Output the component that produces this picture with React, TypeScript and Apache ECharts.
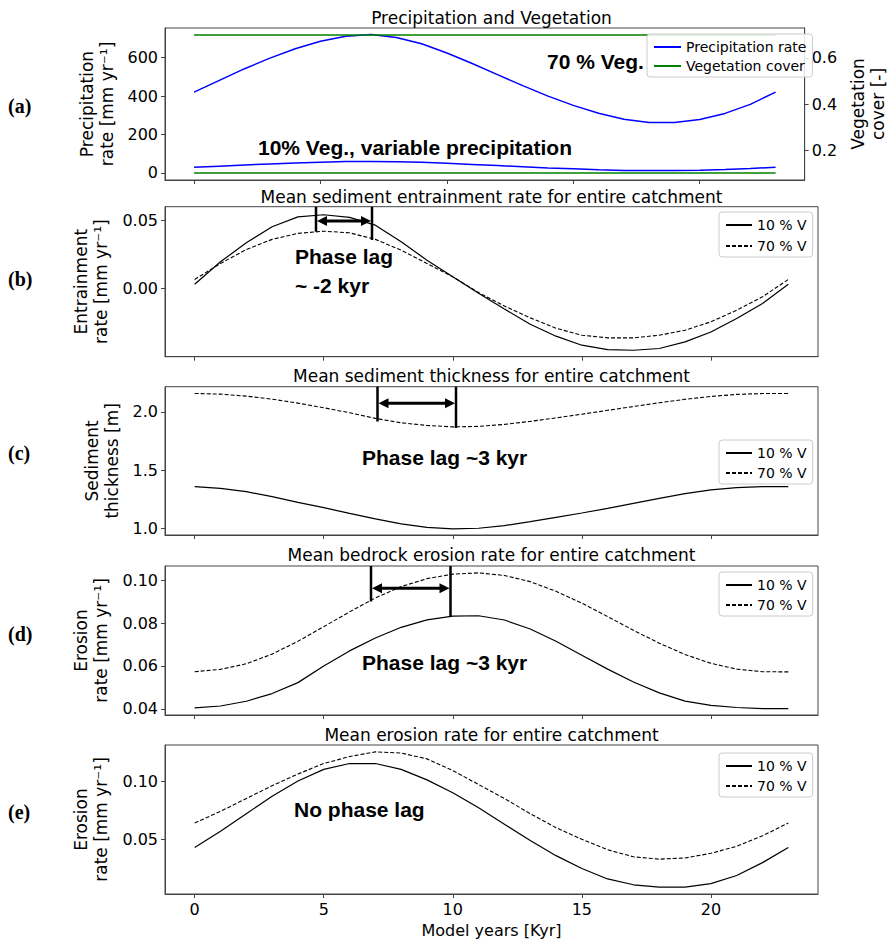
import React, { useEffect, useRef } from "react";
import * as echarts from "echarts";

// ---------- data ----------
const years = [0, 1, 2, 3, 4, 5, 6, 7, 8, 9, 10, 11, 12, 13, 14, 15, 16, 17, 18, 19, 20, 21, 22, 23];

const precipHigh = [421, 482, 543, 598, 647, 686, 712, 721, 706, 673, 625, 570, 512, 455, 400, 352, 311, 280, 263, 262, 278, 310, 357, 421];
const precipLow = [29, 35, 41, 47, 52, 56, 59, 60, 58, 55, 50, 44, 38, 32, 26, 21, 16, 13, 12, 12, 14, 18, 23, 29];
const vegYears = [0, 23];
const vegHigh = [0.7, 0.7];
const vegLow = [0.1, 0.1];

const entrain10 = [0.0031, 0.0195, 0.0334, 0.0451, 0.0524, 0.0539, 0.052, 0.0463, 0.0341, 0.0207, 0.0085, -0.0035, -0.015, -0.0262, -0.0349, -0.0415, -0.0447, -0.0452, -0.0439, -0.0391, -0.0318, -0.022, -0.011, 0.0031];
const entrain70 = [0.0066, 0.0183, 0.0285, 0.0359, 0.0403, 0.0419, 0.0407, 0.0359, 0.028, 0.0183, 0.0085, -0.003, -0.0128, -0.0215, -0.0291, -0.0342, -0.0361, -0.0361, -0.0342, -0.0305, -0.0244, -0.0159, -0.0061, 0.0066];

const thick10 = [1.357, 1.343, 1.314, 1.271, 1.222, 1.177, 1.128, 1.08, 1.037, 1.008, 0.994, 1.0, 1.023, 1.057, 1.094, 1.131, 1.171, 1.214, 1.257, 1.297, 1.329, 1.349, 1.357, 1.357];
const thick70 = [2.158, 2.152, 2.135, 2.109, 2.075, 2.035, 1.992, 1.944, 1.906, 1.883, 1.871, 1.875, 1.892, 1.918, 1.948, 1.98, 2.013, 2.046, 2.078, 2.108, 2.132, 2.15, 2.157, 2.158];

const bedrock10 = [0.0404, 0.0413, 0.0435, 0.0471, 0.0522, 0.06, 0.067, 0.073, 0.078, 0.0815, 0.0832, 0.0834, 0.0814, 0.0772, 0.0715, 0.065, 0.0585, 0.0525, 0.0474, 0.0436, 0.0416, 0.0406, 0.0401, 0.0401];
const bedrock70 = [0.0573, 0.0584, 0.061, 0.0655, 0.0715, 0.0783, 0.0852, 0.0917, 0.097, 0.1007, 0.1028, 0.1034, 0.1022, 0.0993, 0.0948, 0.0893, 0.083, 0.0766, 0.0706, 0.0653, 0.0612, 0.0585, 0.0573, 0.0572];

const erosion10 = [0.043, 0.057, 0.072, 0.087, 0.1, 0.11, 0.115, 0.115, 0.11, 0.101, 0.09, 0.077, 0.063, 0.049, 0.036, 0.025, 0.016, 0.011, 0.009, 0.009, 0.012, 0.019, 0.03, 0.043];
const erosion70 = [0.064, 0.074, 0.085, 0.096, 0.106, 0.115, 0.121, 0.125, 0.124, 0.119, 0.109, 0.097, 0.085, 0.072, 0.06, 0.05, 0.041, 0.035, 0.033, 0.034, 0.038, 0.044, 0.053, 0.064];

const xTicks = [0, 5, 10, 15, 20];
const precipTicks = [0, 200, 400, 600];
const vegTicks = [0.2, 0.4, 0.6];
const entrainTicks = [0, 0.05];
const thickTicks = [1.0, 1.5, 2.0];
const bedrockTicks = [0.04, 0.06, 0.08, 0.1];
const erosionTicks = [0.05, 0.1];

const panelTitles = [
  "Precipitation and Vegetation",
  "Mean sediment entrainment rate for entire catchment",
  "Mean sediment thickness for entire catchment",
  "Mean bedrock erosion rate for entire catchment",
  "Mean erosion rate for entire catchment",
];
const panelLetters = ["(a)", "(b)", "(c)", "(d)", "(e)"];
const legendPrecip = ["Precipitation rate", "Vegetation cover"];
const legendVeg = ["10 % V", "70 % V"];

// ---------- layout ----------
const FONT = "'DejaVu Sans', sans-serif";
const BOLD = "bold 21px 'Liberation Sans', Arial, sans-serif";
const GL = 165;
const GW = 653;
const grids = [
  { top: 28, height: 152 },
  { top: 206.7, height: 150 },
  { top: 386.7, height: 148.3 },
  { top: 566, height: 149 },
  { top: 745, height: 149 },
];
const titleY = [18, 197, 376, 555, 735];
const letterY = [106, 279, 453, 634, 812];
const AXIS_COLOR = "#444";

function xAxis(gridIndex: number, showLabels: boolean) {
  return {
    type: "value",
    gridIndex,
    min: -1.15,
    max: 24.15,
    axisLine: { show: true, onZero: false, lineStyle: { color: AXIS_COLOR, width: 1 } },
    axisTick: { show: true, length: 4, customValues: xTicks, lineStyle: { color: AXIS_COLOR } },
    axisLabel: {
      show: showLabels,
      customValues: xTicks,
      margin: 7,
      fontSize: 16,
      color: "#000",
      fontFamily: FONT,
    },
    splitLine: { show: false },
    name: showLabels ? "Model years [Kyr]" : "",
    nameLocation: "middle",
    nameGap: 28,
    nameTextStyle: { fontSize: 16, color: "#000", fontFamily: FONT },
  };
}

function yAxis(
  gridIndex: number,
  min: number,
  max: number,
  ticks: number[],
  decimals: number,
  name: string,
  nameGap: number,
  position: "left" | "right" = "left"
) {
  return {
    type: "value",
    gridIndex,
    position,
    min,
    max,
    axisLine: { show: true, onZero: false, lineStyle: { color: AXIS_COLOR, width: 1 } },
    axisTick: { show: true, length: 4, customValues: ticks, lineStyle: { color: AXIS_COLOR } },
    axisLabel: {
      customValues: ticks,
      margin: 7,
      fontSize: 16,
      color: "#000",
      fontFamily: FONT,
      formatter: (v: number) => v.toFixed(decimals),
    },
    splitLine: { show: false },
    name,
    nameLocation: "middle",
    nameRotate: 90,
    nameGap,
    nameTextStyle: { fontSize: 17, lineHeight: 20, color: "#000", fontFamily: FONT },
  };
}

function line(
  name: string,
  xi: number,
  yi: number,
  xs: number[],
  ys: number[],
  color: string,
  width: number,
  dashed: boolean
) {
  return {
    type: "line",
    name,
    xAxisIndex: xi,
    yAxisIndex: yi,
    data: xs.map((x, i) => [x, ys[i]]),
    symbol: "none",
    showSymbol: false,
    lineStyle: { color, width, type: dashed ? [4, 2] : "solid" },
    itemStyle: { color },
    emphasis: { disabled: true },
  };
}

function legend(left: number, top: number, data: string[], itemWidth: number, itemGap: number) {
  return {
    orient: "vertical",
    left,
    top,
    data,
    itemWidth,
    itemHeight: 14,
    itemGap,
    padding: [6, 6, 4, 6],
    backgroundColor: "rgba(255,255,255,0.85)",
    borderColor: "#ccc",
    borderWidth: 1,
    borderRadius: 3,
    selectedMode: false,
    itemStyle: {
      color: "rgba(0,0,0,0)",
      borderColor: "rgba(0,0,0,0)",
      borderWidth: 0,
      opacity: 0,
    },
    textStyle: { fontSize: 14, color: "#000", fontFamily: FONT },
  };
}

function text(x: number, y: number, s: string, font: string, align = "left") {
  return {
    type: "text",
    x,
    y,
    z: 100,
    style: {
      text: s,
      font,
      fill: "#000",
      align,
      verticalAlign: "middle",
      textAlign: align,
      textVerticalAlign: "middle",
    },
  };
}

function vline(x: number, y1: number, y2: number) {
  return {
    type: "line",
    z: 100,
    shape: { x1: x, y1, x2: x, y2 },
    style: { stroke: "#000", lineWidth: 2.5 },
  };
}

function dArrow(x1: number, x2: number, y: number) {
  const hl = 10;
  const hw = 5;
  return [
    {
      type: "line",
      z: 100,
      shape: { x1: x1 + hl - 1, y1: y, x2: x2 - hl + 1, y2: y },
      style: { stroke: "#000", lineWidth: 3 },
    },
    {
      type: "polygon",
      z: 100,
      shape: { points: [[x1, y], [x1 + hl, y - hw], [x1 + hl, y + hw]] },
      style: { fill: "#000" },
    },
    {
      type: "polygon",
      z: 100,
      shape: { points: [[x2, y], [x2 - hl, y - hw], [x2 - hl, y + hw]] },
      style: { fill: "#000" },
    },
  ];
}

export default function App() {
  const ref = useRef<HTMLDivElement>(null);

  useEffect(() => {
    document.body.style.margin = "0";
    if (!ref.current) return;
    const chart = echarts.init(ref.current, undefined, { renderer: "svg" });

    const graphic: any[] = [];
    panelTitles.forEach((t, i) =>
      graphic.push(text(GL + GW / 2, titleY[i], t, `17px ${FONT}`, "center"))
    );
    panelLetters.forEach((t, i) =>
      graphic.push(text(8, letterY[i], t, "bold 20px 'Liberation Serif', 'Times New Roman', serif"))
    );
    // panel (a) annotations
    graphic.push(text(547, 61, "70 % Veg.", BOLD));
    graphic.push(text(258, 147, "10% Veg., variable precipitation", BOLD));
    // panel (b)
    graphic.push(vline(316, 206.7, 231.7), vline(372, 206.7, 240), ...dArrow(317, 371, 221));
    graphic.push(text(295, 256, "Phase lag", BOLD), text(295, 285, "~ -2 kyr", BOLD));
    // panel (c)
    graphic.push(vline(377.5, 386.7, 421.5), vline(456, 386.7, 428), ...dArrow(378.5, 455, 403.3));
    graphic.push(text(362, 457, "Phase lag ~3 kyr", BOLD));
    // panel (d)
    graphic.push(vline(371, 566, 601.5), vline(450.5, 566, 616.5), ...dArrow(372, 449.5, 588.3));
    graphic.push(text(362, 662, "Phase lag ~3 kyr", BOLD));
    // panel (e)
    graphic.push(text(294, 809, "No phase lag", BOLD));

    const option: any = {
      animation: false,
      backgroundColor: "#fff",
      grid: grids.map((g) => ({
        left: GL,
        width: GW,
        top: g.top,
        height: g.height,
        show: true,
        borderColor: AXIS_COLOR,
        borderWidth: 1,
        backgroundColor: "transparent",
      })),
      xAxis: [xAxis(0, false), xAxis(1, false), xAxis(2, false), xAxis(3, false), xAxis(4, true)],
      yAxis: [
        yAxis(0, -37, 755, precipTicks, 0, "Precipitation\nrate [mm yr⁻¹]", 36),
        yAxis(0, 0.07, 0.73, vegTicks, 1, "Vegetation\ncover [-]", 33, "right"),
        yAxis(1, -0.0499, 0.0598, entrainTicks, 2, "Entrainment\nrate [mm yr⁻¹]", 47),
        yAxis(2, 0.942, 2.216, thickTicks, 1, "Sediment\nthickness [m]", 33),
        yAxis(3, 0.0371, 0.1066, bedrockTicks, 2, "Erosion\nrate [mm yr⁻¹]", 42),
        yAxis(4, 0.0031, 0.1309, erosionTicks, 2, "Erosion\nrate [mm yr⁻¹]", 42),
      ],
      legend: [
        legend(647, 34, legendPrecip, 27, 5),
        legend(719, 212, legendVeg, 26, 7),
        legend(719, 440, legendVeg, 26, 6),
        legend(719, 572, legendVeg, 26, 6),
        legend(719, 753, legendVeg, 26, 6),
      ],
      series: [
        line("Precipitation rate", 0, 0, years, precipHigh, "#0000ff", 1.5, false),
        line("Precipitation rate", 0, 0, years, precipLow, "#0000ff", 1.5, false),
        line("Vegetation cover", 0, 1, vegYears, vegHigh, "#008000", 1.5, false),
        line("Vegetation cover", 0, 1, vegYears, vegLow, "#008000", 1.5, false),
        line("10 % V", 1, 2, years, entrain10, "#000", 1.2, false),
        line("70 % V", 1, 2, years, entrain70, "#000", 1.1, true),
        line("10 % V", 2, 3, years, thick10, "#000", 1.2, false),
        line("70 % V", 2, 3, years, thick70, "#000", 1.1, true),
        line("10 % V", 3, 4, years, bedrock10, "#000", 1.2, false),
        line("70 % V", 3, 4, years, bedrock70, "#000", 1.1, true),
        line("10 % V", 4, 5, years, erosion10, "#000", 1.2, false),
        line("70 % V", 4, 5, years, erosion70, "#000", 1.1, true),
      ],
      graphic,
    };
    chart.setOption(option);
    return () => chart.dispose();
  }, []);

  return <div ref={ref} style={{ width: 896, height: 945 }} />;
}
